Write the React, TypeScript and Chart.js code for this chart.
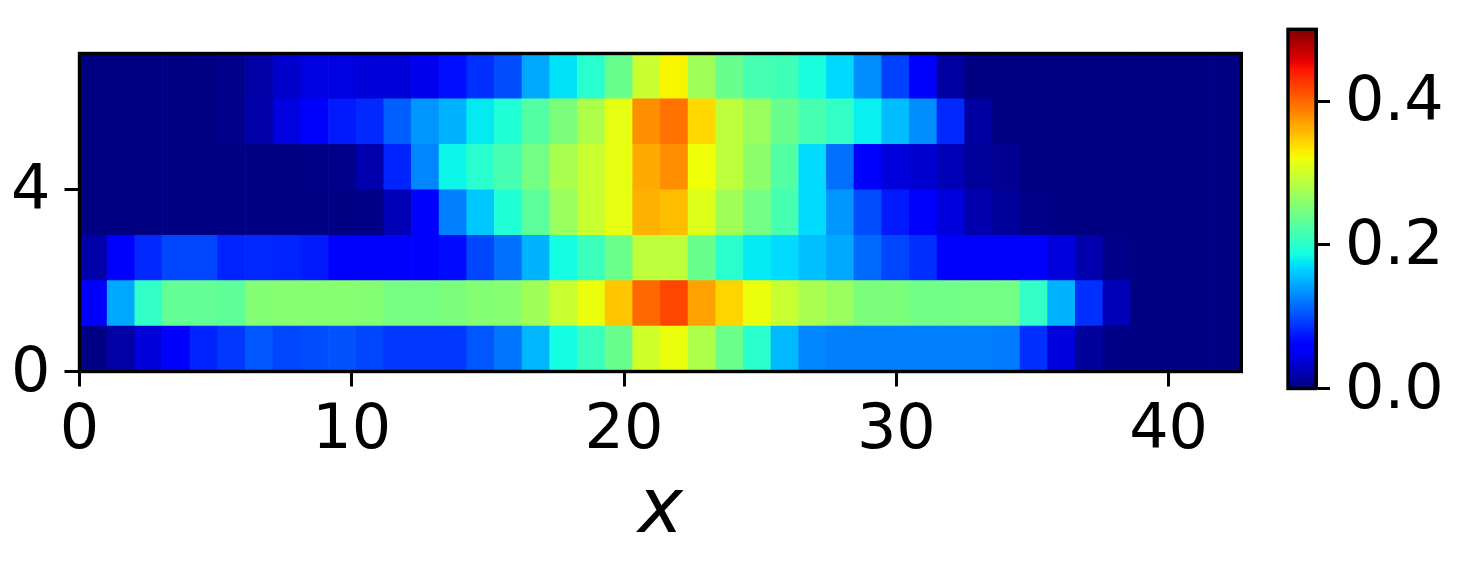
import React, { useEffect, useRef } from "react";
import { Chart, registerables } from "chart.js";

Chart.register(...registerables);

// Heatmap values, one array per row, bottom row first (42 columns each)
const row0 = [.003,.016,.038,.055,.08,.09,.105,.097,.1,.103,.097,.09,.09,.09,.105,.12,.152,.187,.21,.238,.3,.318,.28,.24,.2,.153,.128,.125,.125,.125,.125,.125,.125,.123,.086,.04,.012,.003,.001,.001,.001,.001];
const row1 = [.055,.145,.205,.235,.235,.233,.255,.257,.257,.257,.255,.247,.247,.25,.255,.257,.272,.296,.318,.35,.4,.418,.37,.342,.318,.296,.278,.268,.25,.25,.243,.243,.245,.245,.205,.15,.086,.024,.001,.001,.001,.001];
const row2 = [.018,.055,.082,.097,.097,.08,.082,.08,.075,.058,.056,.055,.055,.068,.097,.118,.15,.187,.21,.24,.29,.29,.238,.2,.177,.17,.157,.145,.114,.097,.086,.06,.055,.055,.055,.04,.02,.004,.001,.001,.001,.001];
const row3 = [.001,.001,.001,.001,.001,.002,.002,.002,.002,.002,.003,.024,.06,.125,.16,.195,.23,.268,.296,.315,.362,.355,.31,.272,.245,.218,.17,.136,.1,.075,.055,.04,.02,.012,.004,.002,.001,.001,.001,.001,.001,.001];
const row4 = [.001,.001,.001,.001,.001,.002,.002,.002,.003,.005,.02,.08,.128,.183,.2,.218,.245,.278,.296,.315,.365,.38,.32,.29,.26,.225,.17,.118,.055,.04,.035,.024,.012,.008,.002,.001,.001,.001,.001,.001,.001,.001];
const row5 = [.001,.001,.001,.001,.001,.006,.018,.042,.055,.075,.082,.109,.136,.15,.177,.195,.225,.25,.28,.315,.38,.395,.34,.29,.268,.238,.218,.205,.18,.155,.132,.082,.014,.001,.001,.001,.001,.001,.001,.001,.001,.001];
const row6 = [.001,.001,.001,.001,.002,.005,.016,.033,.042,.042,.038,.038,.048,.07,.086,.1,.145,.174,.2,.238,.296,.325,.272,.238,.218,.214,.19,.169,.132,.094,.055,.014,.001,.001,.001,.001,.001,.001,.001,.001,.001,.001];
const rows = [row0, row1, row2, row3, row4, row5, row6];

const xExtent = 42.67;
const yExtent = 7;
const vMax = 0.5;
const xTickValues = [0, 10, 20, 30, 40];
const yTickValues = [0, 4];
const colorbarTicks = [0, 0.2, 0.4];

const FONT = "'DejaVu Sans'";
const W = 1474;
const H = 580;
const BAR_TOP = 29.3;
const BAR_BOTTOM = 388.5;

function interp(t: number, pts: number[][]) {
  if (t <= pts[0][0]) return pts[0][1];
  for (let i = 1; i < pts.length; i++) {
    if (t <= pts[i][0]) {
      const [a, av] = pts[i - 1];
      const [b, bv] = pts[i];
      return av + ((t - a) / (b - a)) * (bv - av);
    }
  }
  return pts[pts.length - 1][1];
}
const jetR = [[0, 0], [0.35, 0], [0.66, 1], [0.89, 1], [1, 0.5]];
const jetG = [[0, 0], [0.125, 0], [0.375, 1], [0.64, 1], [0.91, 0], [1, 0]];
const jetB = [[0, 0.5], [0.11, 1], [0.34, 1], [0.65, 0], [1, 0]];
function jet(t: number) {
  const c = (p: number[][]) => Math.round(255 * interp(t, p));
  return `rgb(${c(jetR)},${c(jetG)},${c(jetB)})`;
}

const framePlugin = {
  id: "frame",
  afterDraw(chart: any) {
    const { left, right, top, bottom } = chart.chartArea;
    const ctx = chart.ctx;
    ctx.save();
    ctx.strokeStyle = "#000";
    ctx.lineWidth = 3.4;
    ctx.lineJoin = "miter";
    ctx.strokeRect(left, top, right - left, bottom - top);
    ctx.restore();
  },
};

export default function App() {
  const mainRef = useRef<HTMLCanvasElement>(null);
  const barRef = useRef<HTMLCanvasElement>(null);

  useEffect(() => {
    document.body.style.margin = "0";
    document.body.style.overflow = "hidden";
    const dx = xExtent / rows[0].length;
    const main = new Chart(mainRef.current!, {
      type: "bar",
      data: {
        datasets: rows.map((vals, r) => ({
          data: vals.map((v, c) => ({ x: (c + 0.5) * dx, y: [r, r + 1], v })),
          backgroundColor: vals.map((v) => jet(v / vMax)),
          grouped: false,
          barPercentage: 1,
          categoryPercentage: 1,
          borderWidth: 0,
        })),
      } as any,
      options: {
        responsive: false,
        animation: false,
        events: [],
        layout: { padding: { left: 0, right: W - 1241.3, top: 53.5, bottom: 0 } },
        plugins: { legend: { display: false }, tooltip: { enabled: false } },
        scales: {
          x: {
            type: "linear",
            min: 0,
            max: xExtent,
            offset: false,
            afterFit(s: any) { s.height = H - 371.5; },
            afterBuildTicks(s: any) { s.ticks = xTickValues.map((value) => ({ value })); },
            grid: { offset: false, drawOnChartArea: false, drawTicks: true, tickLength: 15, tickWidth: 3, tickColor: "#000" },
            border: { display: true, color: "#000", width: 3 },
            ticks: { color: "#000", font: { family: FONT, size: 62 }, padding: 8, maxRotation: 0, autoSkip: false },
            title: { display: true, text: "x", color: "#000", font: { family: FONT, size: 76, style: "italic" }, padding: { top: 0, bottom: 22 } },
          },
          y: {
            type: "linear",
            min: 0,
            max: yExtent,
            afterFit(s: any) { s.width = 79.5; },
            afterBuildTicks(s: any) { s.ticks = yTickValues.map((value) => ({ value })); },
            grid: { drawOnChartArea: false, drawTicks: true, tickLength: 15, tickWidth: 3, tickColor: "#000" },
            border: { display: true, color: "#000", width: 3 },
            ticks: { color: "#000", font: { family: FONT, size: 62 }, padding: 14, labelOffset: 3, autoSkip: false },
          },
        },
      } as any,
      plugins: [framePlugin],
    });

    const bar = new Chart(barRef.current!, {
      type: "bar",
      data: {
        labels: ["colorbar"],
        datasets: [{
          data: [[0, vMax]],
          barPercentage: 1,
          categoryPercentage: 1,
          borderWidth: 0,
          backgroundColor(c: any) {
            const g = c.chart.ctx.createLinearGradient(0, BAR_BOTTOM, 0, BAR_TOP);
            for (let i = 0; i <= 100; i++) g.addColorStop(i / 100, jet(i / 100));
            return g;
          },
        }],
      } as any,
      options: {
        responsive: false,
        animation: false,
        events: [],
        layout: { padding: { left: 1288, right: 0, top: BAR_TOP, bottom: H - BAR_BOTTOM } },
        plugins: { legend: { display: false }, tooltip: { enabled: false } },
        scales: {
          x: { display: false },
          y: {
            type: "linear",
            position: "right",
            min: 0,
            max: vMax,
            afterFit(s: any) { s.width = W - 1316; s.paddingTop = 0; s.paddingBottom = 0; },
            afterBuildTicks(s: any) { s.ticks = colorbarTicks.map((value) => ({ value })); },
            grid: { drawOnChartArea: false, drawTicks: true, tickLength: 14, tickWidth: 3, tickColor: "#000" },
            border: { display: true, color: "#000", width: 3 },
            ticks: {
              color: "#000",
              font: { family: FONT, size: 62 },
              padding: 15,
              labelOffset: 3,
              autoSkip: false,
              callback: (v: any) => Number(v).toFixed(1),
            },
          },
        },
      } as any,
      plugins: [framePlugin],
    });

    return () => {
      main.destroy();
      bar.destroy();
    };
  }, []);

  const style: React.CSSProperties = { position: "absolute", left: 0, top: 0, width: W, height: H };
  return (
    <div style={{ position: "relative", width: W, height: H, background: "#fff" }}>
      <canvas ref={mainRef} width={W} height={H} style={style} />
      <canvas ref={barRef} width={W} height={H} style={style} />
    </div>
  );
}
